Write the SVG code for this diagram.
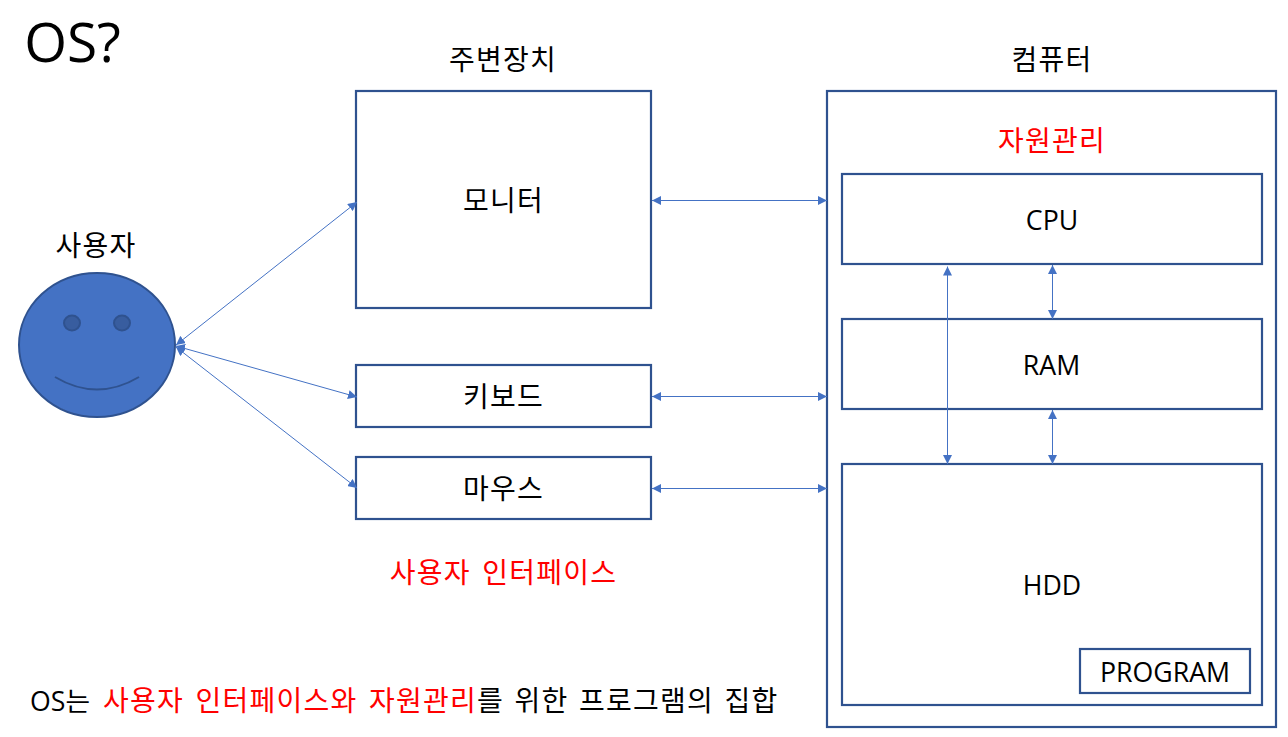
<svg xmlns="http://www.w3.org/2000/svg" width="1288" height="737" viewBox="0 0 1288 737">
<style>
text{font-family:"Open Sans","Noto Sans CJK KR",sans-serif;fill:#000;font-size:26.7px;text-anchor:middle}
.k{font-family:"Noto Sans CJK KR","Open Sans",sans-serif;font-size:28px;letter-spacing:1.24px;word-spacing:4px}
.r{fill:#f00}
.box{fill:#fff;stroke:#2f528f;stroke-width:2.2}
.c{fill:none;stroke:#4472c4;stroke-width:1;marker-start:url(#a);marker-end:url(#a)}
</style>
<defs>
<marker id="a" viewBox="0 0 9 9" refX="9" refY="4.500" markerWidth="9" markerHeight="9" markerUnits="userSpaceOnUse" orient="auto-start-reverse"><path d="M0 0L9 4.500L0 9Z" fill="#4472c4"/></marker>
</defs>
<rect width="1288" height="737" fill="#fff"/>
<text x="72.500" y="62" style="font-size:55px">OS?</text>
<text class="k" x="503" y="70">주변장치</text>
<text class="k" x="1052" y="70">컴퓨터</text>
<g id="computer"><rect class="box" x="827" y="91" width="449" height="636"/></g>
<text class="k r" x="1052" y="151">자원관리</text>
<g id="user">
<text class="k" x="96" y="256">사용자</text>
<ellipse cx="97" cy="345" rx="78" ry="72" fill="#4472c4" stroke="#2f528f" stroke-width="2"/>
<ellipse cx="72" cy="323" rx="8" ry="7.500" fill="#385d9f" stroke="#2f528f" stroke-width="2"/>
<ellipse cx="122" cy="323" rx="8" ry="7.500" fill="#385d9f" stroke="#2f528f" stroke-width="2"/>
<path d="M55 377Q97 402 139 377" fill="none" stroke="#2f528f" stroke-width="2"/>
</g>
<g id="monitor"><rect class="box" x="356" y="91" width="295" height="217"/><text class="k" x="503.500" y="211">모니터</text></g>
<g id="keyboard"><rect class="box" x="356" y="365" width="295" height="62"/><text class="k" x="503.500" y="407">키보드</text></g>
<g id="mouse"><rect class="box" x="356" y="457" width="295" height="62"/><text class="k" x="503.500" y="499">마우스</text></g>
<text class="k r" x="503.500" y="583">사용자 인터페이스</text>
<g id="cpu"><rect class="box" x="842" y="174" width="420" height="90"/><text x="1052" y="230">CPU</text></g>
<g id="ram"><rect class="box" x="842" y="319" width="420" height="90"/><text x="1051.500" y="375">RAM</text></g>
<g id="hdd"><rect class="box" x="842" y="464" width="420" height="241"/><text x="1052" y="595">HDD</text></g>
<g id="program"><rect class="box" x="1080" y="649" width="170" height="44"/><text x="1165" y="682">PROGRAM</text></g>
<text x="30" y="711" style="text-anchor:start">OS는</text>
<text class="k r" x="103" y="711" style="text-anchor:start">사용자 인터페이스와 자원관리</text>
<text class="k" x="477" y="711" style="text-anchor:start;word-spacing:3px">를 위한 프로그램의 집합</text>
<g id="connectors">
<line class="c" x1="176" y1="345" x2="357" y2="202"/>
<line class="c" x1="176" y1="346" x2="357" y2="397"/>
<line class="c" x1="176" y1="347" x2="357" y2="488"/>
<line class="c" x1="652" y1="200.500" x2="827" y2="200.500"/>
<line class="c" x1="652" y1="396.500" x2="827" y2="396.500"/>
<line class="c" x1="652" y1="488.500" x2="827" y2="488.500"/>
<line class="c" x1="947.500" y1="266.500" x2="947.500" y2="464"/>
<line class="c" x1="1052.500" y1="265" x2="1052.500" y2="319"/>
<line class="c" x1="1052.500" y1="410" x2="1052.500" y2="464"/>
</g>
</svg>
